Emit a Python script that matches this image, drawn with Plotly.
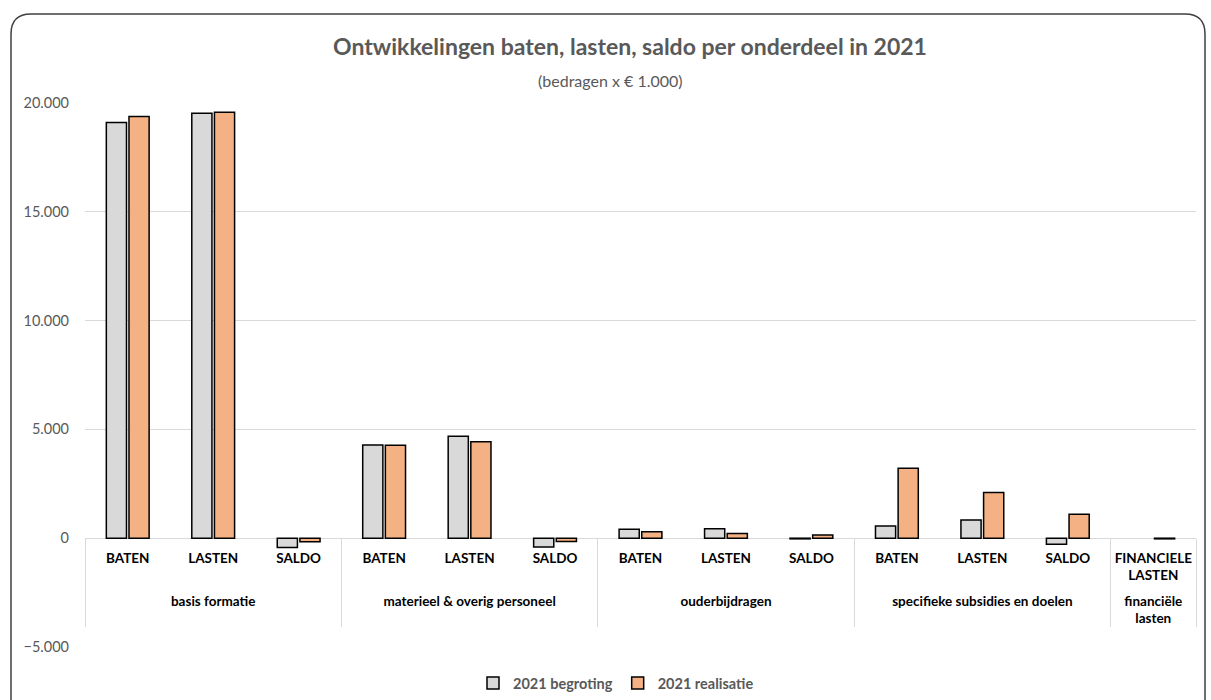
import plotly.graph_objects as go

# Budget vs. realisation per cost centre, amounts x EUR 1.000
onderdelen = ["basis formatie"] * 3 + ["materieel & overig personeel"] * 3 + \
             ["ouderbijdragen"] * 3 + ["specifieke subsidies en doelen"] * 3 + \
             ["financiële<br>lasten"]
posten = ["BATEN", "LASTEN", "SALDO"] * 4 + ["FINANCIELE<br>LASTEN<br>\u00a0"]
begroting_2021 = [19100, 19530, -430, 4280, 4690, -410, 410, 440, -30, 565, 840, -275, None]
realisatie_2021 = [19380, 19570, -160, 4270, 4435, -150, 300, 215, 150, 3210, 2100, 1100, -30]
y_ticks = [-5000, 0, 5000, 10000, 15000, 20000]

W, H = 1211, 700
L, R, T, B = 85, 15, 103, 53
FONT = "Lato"
GREY_TXT = "#595959"


def px_x(px):
    return (px - L) / (W - L - R)


def px_y(py):
    return (H - B - py) / (H - T - B)


fig = go.Figure()
fig.add_trace(go.Bar(
    name="2021 begroting", x=[onderdelen, posten], y=begroting_2021,
    marker=dict(color="#d9d9d9", line=dict(color="#000000", width=1.5)),
))
fig.add_trace(go.Bar(
    name="2021 realisatie", x=[onderdelen, posten], y=realisatie_2021,
    marker=dict(color="#f4b183", line=dict(color="#000000", width=1.5)),
))

# rounded frame around the whole chart
x0, x1, y0, y1, r = px_x(11), px_x(1205), px_y(14), px_y(710), 20
rx = r / (W - L - R)
ry = r / (H - T - B)
frame = (f"M {x0} {y1} L {x0} {y0 - ry} Q {x0} {y0} {x0 + rx} {y0} "
         f"L {x1 - rx} {y0} Q {x1} {y0} {x1} {y0 - ry} L {x1} {y1}")
fig.add_shape(type="path", path=frame, xref="paper", yref="paper",
              line=dict(color="#404040", width=1.5))

fig.add_annotation(text="(bedragen x € 1.000)", xref="paper", yref="paper",
                   x=px_x(610), y=px_y(69), showarrow=False,
                   font=dict(family=FONT, size=16, color=GREY_TXT))

fig.update_layout(
    width=W, height=H,
    margin=dict(l=L, r=R, t=T, b=B, autoexpand=False),
    paper_bgcolor="white", plot_bgcolor="white",
    separators=",.",
    barmode="group", bargap=0.47, bargroupgap=0.11,
    title=dict(text="<b>Ontwikkelingen baten, lasten, saldo per onderdeel in 2021</b>",
               x=630 / W, xanchor="center",
               y=1 - 47 / H, yanchor="middle",
               font=dict(family=FONT, size=23, color=GREY_TXT)),
    legend=dict(orientation="h", x=616 / W, xanchor="center", xref="container",
                y=1 - 683 / H, yanchor="middle", yref="container",
                font=dict(family=FONT, size=14.5, color=GREY_TXT, weight="bold"),
                itemwidth=30, traceorder="normal"),
    font=dict(family=FONT),
)
fig.update_xaxes(
    type="multicategory", anchor="free", position=0.2,
    showgrid=False, showline=False, ticks="", ticklabelstandoff=10,
    tickangle=0,
    showdividers=True, dividercolor="#d9d9d9", dividerwidth=1,
    tickfont=dict(family=FONT, size=13.5, color="#000000", weight="bold"),
)
fig.update_yaxes(
    range=[-5000, 20000], tickvals=y_ticks, tickformat=",",
    showgrid=True, gridcolor="#d9d9d9", gridwidth=1,
    zeroline=True, zerolinecolor="#d9d9d9", zerolinewidth=1,
    showline=False, ticks="", ticklabelstandoff=15,
    tickfont=dict(family=FONT, size=14.5, color=GREY_TXT),
)

fig.write_html("out.html")
